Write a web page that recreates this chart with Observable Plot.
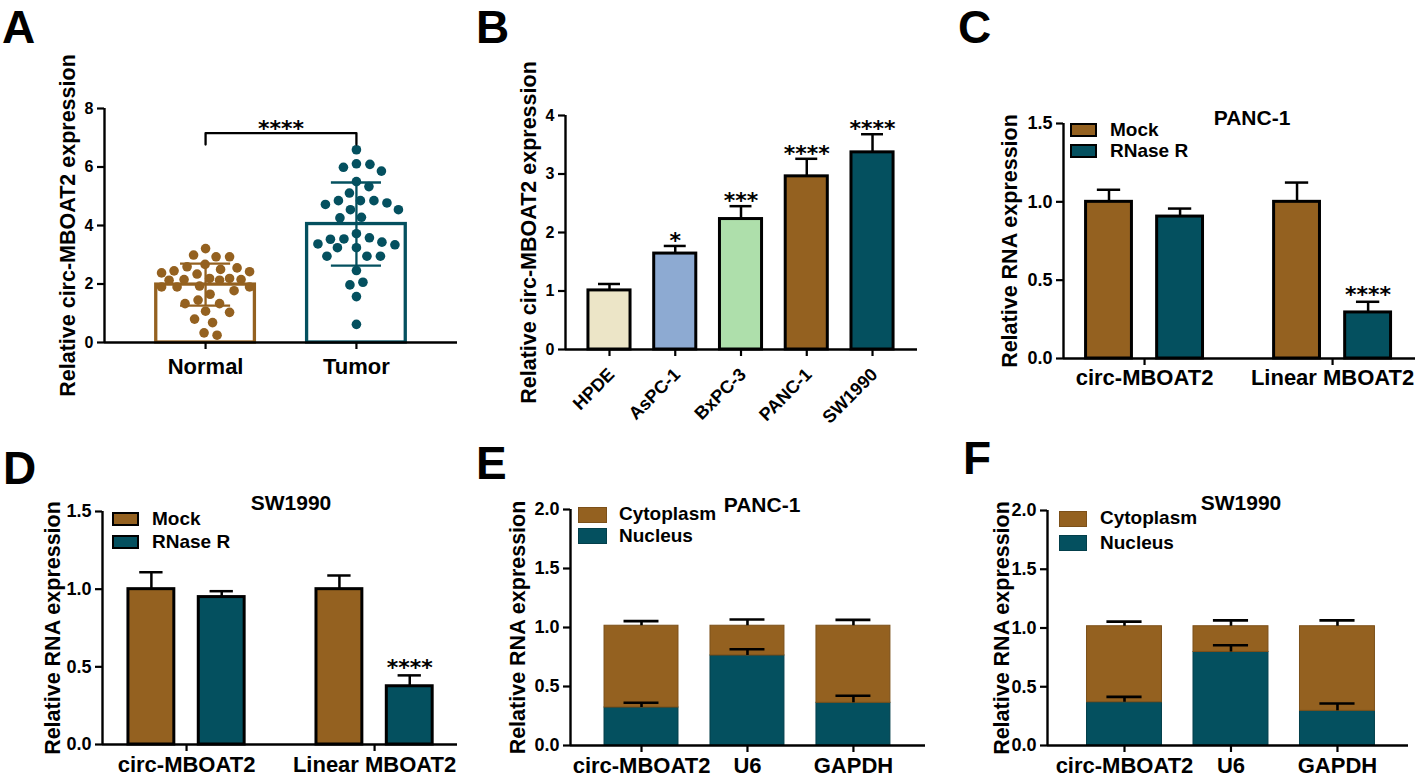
<!DOCTYPE html>
<html><head><meta charset="utf-8">
<script src="https://cdn.jsdelivr.net/npm/d3@7"></script>
<script src="https://cdn.jsdelivr.net/npm/@observablehq/plot@0.6"></script>
<style>
html,body{margin:0;padding:0;background:#fff;}
#fig{position:relative;width:1418px;height:778px;overflow:hidden;font-family:"Liberation Sans",Arial,sans-serif;font-weight:bold;color:#000;background:#fff;}
#fig div{position:absolute;line-height:normal;white-space:nowrap;}
#fig div.letter{font-size:46px;}
.sw{box-sizing:border-box;}
</style></head><body><div id="fig"></div>
<script>
// ---------------- DATA ----------------
// Panel A
const groupsA = ["Normal", "Tumor"];
const normalA = [3.21, 2.93, 2.93, 2.99, 2.59, 2.50, 2.42, 2.34, 2.38, 2.45, 2.55, 2.67, 2.19, 2.15, 2.13, 2.15, 2.19,
  1.90, 1.90, 1.93, 1.77, 2.13, 1.65, 1.45, 1.33, 1.33, 1.03, 1.07, 0.68, 0.80, 0.25, 0.33, 1.90];
const tumorA = [6.59, 6.09, 5.99, 6.11, 5.86, 5.50, 5.33, 5.11, 4.85, 4.77, 4.85, 4.72, 4.85, 4.54, 4.28, 4.26, 4.54,
  3.72, 3.54, 3.43, 3.53, 3.58, 3.37, 3.34, 3.24, 3.24, 2.95, 2.95, 2.95, 2.46, 2.06, 1.97, 1.57, 0.62];
const meansA = [1.98, 4.05];
const sdsA = [0.72, 1.42];
const bracketA = {low: 6.77, high: 7.16, stars: "****"};
const yTicksA = [0, 2, 4, 6, 8];
const yLabelA = "Relative circ-MBOAT2 expression";

// Panel B
const cellsB = ["HPDE", "AsPC-1", "BxPC-3", "PANC-1", "SW1990"];
const valuesB = [1.01, 1.64, 2.23, 2.96, 3.37];
const errB = [0.11, 0.13, 0.22, 0.30, 0.31];
const starsB = ["", "*", "***", "****", "****"];
const yTicksB = [0, 1, 2, 3, 4];
const yLabelB = "Relative circ-MBOAT2 expression";

// Panels C / D
const genesCD = ["circ-MBOAT2", "Linear MBOAT2"];
const treatCD = ["Mock", "RNase R"];
const mockC = [1.0, 1.0], mockErrC = [0.077, 0.123];
const rnaseC = [0.906, 0.294], rnaseErrC = [0.051, 0.068];
const starsC = ["", "****"];
const mockD = [1.0, 1.0], mockErrD = [0.109, 0.088];
const rnaseD = [0.949, 0.375], rnaseErrD = [0.038, 0.07];
const starsD = ["", "****"];
const yTicksCD = [0, 0.5, 1.0, 1.5];
const yLabelRNA = "Relative RNA expression";

// Panels E / F
const genesEF = ["circ-MBOAT2", "U6", "GAPDH"];
const partsEF = ["Cytoplasm", "Nucleus"];
const nucleusE = [0.322, 0.763, 0.362], nucleusErrE = [0.040, 0.053, 0.059];
const cytoE = [0.693, 0.252, 0.653], cytoErrE = [0.039, 0.053, 0.050];
const nucleusF = [0.368, 0.796, 0.295], nucleusErrF = [0.046, 0.057, 0.062];
const cytoF = [0.647, 0.219, 0.720], cytoErrF = [0.039, 0.050, 0.050];
const yTicksEF = [0, 0.5, 1.0, 1.5, 2.0];

// ---------------- STYLE ----------------
const FONT = "'Liberation Sans', Arial, sans-serif";
const BROWN = "#946120", TEAL = "#04505F";
const colorsA = [BROWN, TEAL];
const colorsB = ["#ECE5C7", "#8DAAD2", "#AEDFAB", BROWN, TEAL];
const colorsTreat = [BROWN, TEAL];
const colorsPart = {Cytoplasm: BROWN, Nucleus: TEAL};
const edgePart = {Cytoplasm: "#7c5019", Nucleus: "#033f4b"};
const fmt1 = d3.format(".1f");

const fig = document.getElementById("fig");

function panel(fr, marks, mB = 60) {
  const mL = 110, mR = 16, mT = 30;
  const svg = Plot.plot({
    width: fr.right - fr.left + mL + mR,
    height: fr.bottom - fr.top + mT + mB,
    marginLeft: mL, marginRight: mR, marginTop: mT, marginBottom: mB,
    x: {domain: fr.xDomain},
    y: {domain: fr.yDomain},
    style: {fontFamily: FONT, fontWeight: "bold", color: "#000", background: "none", overflow: "visible"},
    marks
  });
  svg.style.position = "absolute";
  svg.style.left = (fr.left - mL) + "px";
  svg.style.top = (fr.top - mT) + "px";
  fig.appendChild(svg);
}

function axes(fr, o) {
  return [
    Plot.axisY({ticks: o.yTicks, tickFormat: o.yFormat, tickSize: 7, tickPadding: 4, fontSize: o.yFont, fontWeight: "bold", strokeWidth: 2.2, label: null}),
    Plot.axisX({ticks: o.xTicks, tickFormat: o.rotate ? () => "" : o.xFormat, tickSize: 7, tickPadding: o.xPad, fontSize: o.xFont, fontWeight: "bold", strokeWidth: 2.2, label: null}),
    ...(o.rotate ? [Plot.text(o.xTicks, {x: d => d, text: o.xFormat, frameAnchor: "bottom", rotate: o.rotate, textAnchor: "end", lineAnchor: "middle", dx: 2, dy: 22, fontSize: o.xFont, fontWeight: "bold"})] : []),
    Plot.ruleY([fr.yDomain[0]], {stroke: "#000", strokeWidth: 2.4}),
    Plot.ruleX([fr.xDomain[0]], {stroke: "#000", strokeWidth: 2.4}),
    Plot.text([o.yLabel], {frameAnchor: "left", rotate: -90, textAnchor: "middle", dx: o.labelDx, fontSize: 21.5, fontWeight: "bold"})
  ];
}

function pxPerUnit(fr) {
  return {x: (fr.right - fr.left) / (fr.xDomain[1] - fr.xDomain[0]), y: (fr.bottom - fr.top) / (fr.yDomain[1] - fr.yDomain[0])};
}

// beeswarm layout: non-overlapping where possible, kept within maxHalf pixels of the centre
function swarmOffsets(values, k, r, gap, maxHalf) {
  const D = 2 * r + gap;
  const order = d3.range(values.length).sort((a, b) => d3.descending(values[a], values[b]));
  const placed = [], out = new Array(values.length);
  for (const i of order) {
    const y = values[i] * k.y;
    let found = null, bestX = 0, bestD = -1;
    for (let s = 0; s * 0.5 <= maxHalf && found === null; s++) {
      const c = s * 0.5;
      const cands = s === 0 ? [0] : (placed.length % 2 ? [-c, c] : [c, -c]);
      for (const cx of cands) {
        const md = placed.length ? d3.min(placed, p => Math.hypot(p.x - cx, p.y - y)) : Infinity;
        if (md >= D) { found = cx; break; }
        if (md > bestD) { bestD = md; bestX = cx; }
      }
    }
    const x = found !== null ? found : bestX;
    placed.push({x, y});
    out[i] = x / k.x;
  }
  return out;
}

// HTML text with line-height normal: cap centre sits ~0.562em below the box top
function addText(txt, left, capCenter, size, center = false) {
  const d = document.createElement("div");
  d.textContent = txt;
  d.style.left = left + "px";
  d.style.top = (capCenter - size * 0.562) + "px";
  d.style.fontSize = size + "px";
  if (center) d.style.transform = "translateX(-50%)";
  fig.appendChild(d);
}
function addLetter(txt, left, capTop) {
  const d = document.createElement("div");
  d.className = "letter";
  d.textContent = txt;
  d.style.left = left + "px";
  d.style.top = Math.max(0, capTop - 46 * 0.205) + "px";
  fig.appendChild(d);
}
function addSwatch(x1, y1, x2, y2, fill, border) {
  const d = document.createElement("div");
  d.className = "sw";
  d.style.cssText += `left:${x1}px;top:${y1}px;width:${x2 - x1}px;height:${y2 - y1}px;background:${fill};border:${border};`;
  fig.appendChild(d);
}

// ---------------- PANEL A ----------------
{
  const fr = {left: 104, right: 457, top: 108, bottom: 342, xDomain: [0.33, 2.67], yDomain: [0, 8]};
  const k = pxPerUnit(fr);
  const summary = groupsA.map((g, i) => ({group: g, pos: i + 1, mean: meansA[i], sd: sdsA[i], color: colorsA[i]}));
  const pts = [];
  [normalA, tumorA].forEach((vals, gi) => {
    const off = swarmOffsets(vals, k, 4.8, 3.6, 44);
    vals.forEach((v, i) => pts.push({group: groupsA[gi], x: gi + 1 + off[i], value: v, color: colorsA[gi]}));
  });
  const hw = 0.327, cap = 0.166;
  const br = [
    {x: 1, y: bracketA.low}, {x: 1, y: bracketA.high}, {x: 2, y: bracketA.high}, {x: 2, y: bracketA.low}
  ];
  panel(fr, [
    Plot.rectY(summary, {x1: d => d.pos - hw, x2: d => d.pos + hw, y: "mean", fill: "white", stroke: d => d.color, strokeWidth: 3.3}),
    Plot.dot(pts, {x: "x", y: "value", r: 4.8, fill: d => d.color, stroke: "none"}),
    Plot.ruleX(summary, {x: "pos", y1: d => d.mean - d.sd, y2: d => d.mean + d.sd, stroke: d => d.color, strokeWidth: 2.3}),
    Plot.ruleY(summary, {y: d => d.mean + d.sd, x1: d => d.pos - cap, x2: d => d.pos + cap, stroke: d => d.color, strokeWidth: 2.3}),
    Plot.ruleY(summary, {y: d => d.mean - d.sd, x1: d => d.pos - cap, x2: d => d.pos + cap, stroke: d => d.color, strokeWidth: 2.3}),
    Plot.line(br, {x: "x", y: "y", stroke: "#000", strokeWidth: 2.3}),
    Plot.text([bracketA], {x: () => 1.5, y: d => d.high, text: d => d.stars, dy: -4, fontSize: 22, fontFamily: "DejaVu Sans", fontWeight: "bold"}),
    ...axes(fr, {yTicks: yTicksA, yFormat: d3.format("d"), yFont: 16, xTicks: [1, 2], xFormat: i => groupsA[i - 1], xFont: 22, xPad: 9, yLabel: yLabelA, labelDx: -36})
  ]);
  addLetter("A", 2, 4);
}

// ---------------- PANEL B ----------------
{
  const fr = {left: 565, right: 917, top: 115, bottom: 349, xDomain: [0.331, 5.684], yDomain: [0, 4]};
  const data = cellsB.map((c, i) => ({cell: c, pos: i + 1, value: valuesB[i], err: errB[i], stars: starsB[i], color: colorsB[i]}));
  const hw = 0.32, cap = 0.167;
  panel(fr, [
    Plot.rectY(data, {x1: d => d.pos - hw, x2: d => d.pos + hw, y: "value", fill: d => d.color, stroke: "#000", strokeWidth: 3}),
    Plot.ruleX(data, {x: "pos", y1: "value", y2: d => d.value + d.err, stroke: "#000", strokeWidth: 2.5}),
    Plot.ruleY(data, {y: d => d.value + d.err, x1: d => d.pos - cap, x2: d => d.pos + cap, stroke: "#000", strokeWidth: 2.5}),
    Plot.text(data, {x: "pos", y: d => d.value + d.err, text: "stars", dy: -5, fontSize: 22, fontFamily: "DejaVu Sans", fontWeight: "bold"}),
    ...axes(fr, {yTicks: yTicksB, yFormat: d3.format("d"), yFont: 16, xTicks: [1, 2, 3, 4, 5], xFormat: i => cellsB[i - 1], xFont: 18, xPad: 3, rotate: -45, yLabel: yLabelB, labelDx: -36})
  ], 80);
  addLetter("B", 476, 7);
}

// ---------------- PANELS C / D ----------------
function grouped(fr, mock, mockErr, rnase, rnaseErr, stars, offset, o) {
  const data = [];
  genesCD.forEach((g, gi) => {
    data.push({gene: g, treat: treatCD[0], pos: gi + 1 - offset, value: mock[gi], err: mockErr[gi], stars: "", color: colorsTreat[0]});
    data.push({gene: g, treat: treatCD[1], pos: gi + 1 + offset, value: rnase[gi], err: rnaseErr[gi], stars: stars[gi], color: colorsTreat[1]});
  });
  const hw = 0.122, cap = 0.062;
  panel(fr, [
    Plot.rectY(data, {x1: d => d.pos - hw, x2: d => d.pos + hw, y: "value", fill: d => d.color, stroke: "#000", strokeWidth: 3}),
    Plot.ruleX(data, {x: "pos", y1: "value", y2: d => d.value + d.err, stroke: "#000", strokeWidth: 2.5}),
    Plot.ruleY(data, {y: d => d.value + d.err, x1: d => d.pos - cap, x2: d => d.pos + cap, stroke: "#000", strokeWidth: 2.5}),
    Plot.text(data, {x: "pos", y: d => d.value + d.err, text: "stars", dy: -7, fontSize: 22, fontFamily: "DejaVu Sans", fontWeight: "bold"}),
    ...axes(fr, {yTicks: yTicksCD, yFormat: fmt1, yFont: 18, xTicks: [1, 2], xFormat: i => genesCD[i - 1], xFont: 22, xPad: o.pad, yLabel: yLabelRNA, labelDx: o.labelDx})
  ]);
}
grouped({left: 1063, right: 1415, top: 123, bottom: 358, xDomain: [0.569, 2.441], yDomain: [0, 1.5]},
  mockC, mockErrC, rnaseC, rnaseErrC, starsC, 0.189, {pad: 4, labelDx: -53});
addLetter("C", 958, 8);
addText("PANC-1", 1252, 118, 21, true);
addSwatch(1070, 123, 1097, 137, colorsTreat[0], "2.5px solid #000");
addSwatch(1070, 144, 1097, 158, colorsTreat[1], "2.5px solid #000");
addText(treatCD[0], 1110, 130, 19);
addText(treatCD[1], 1110, 151, 19);

grouped({left: 102, right: 457, top: 511, bottom: 744, xDomain: [0.553, 2.441], yDomain: [0, 1.5]},
  mockD, mockErrD, rnaseD, rnaseErrD, starsD, 0.187, {pad: 5, labelDx: -49});
addLetter("D", 3, 450);
addText("SW1990", 291, 503, 21, true);
addSwatch(112, 512, 139, 526, colorsTreat[0], "2.5px solid #000");
addSwatch(112, 535, 139, 549, colorsTreat[1], "2.5px solid #000");
addText(treatCD[0], 152, 519, 19);
addText(treatCD[1], 152, 542, 19);

// ---------------- PANELS E / F ----------------
function stacked(fr, nucleus, nucleusErr, cyto, cytoErr, hw, labelDx) {
  const segs = [];
  genesEF.forEach((g, gi) => {
    segs.push({gene: g, part: "Nucleus", pos: gi + 1, y1: 0, y2: nucleus[gi], err: nucleusErr[gi]});
    segs.push({gene: g, part: "Cytoplasm", pos: gi + 1, y1: nucleus[gi], y2: nucleus[gi] + cyto[gi], err: cytoErr[gi]});
  });
  const cap = 0.165;
  panel(fr, [
    Plot.rect(segs, {x1: d => d.pos - hw, x2: d => d.pos + hw, y1: "y1", y2: "y2", fill: d => colorsPart[d.part], stroke: d => edgePart[d.part], strokeWidth: 1}),
    Plot.ruleX(segs, {x: "pos", y1: "y2", y2: d => d.y2 + d.err, stroke: "#000", strokeWidth: 2.6}),
    Plot.ruleY(segs, {y: d => d.y2 + d.err, x1: d => d.pos - cap, x2: d => d.pos + cap, stroke: "#000", strokeWidth: 2.6}),
    ...axes(fr, {yTicks: yTicksEF, yFormat: fmt1, yFont: 18, xTicks: [1, 2, 3], xFormat: i => genesEF[i - 1], xFont: 22, xPad: 5, yLabel: yLabelRNA, labelDx})
  ]);
}
stacked({left: 570, right: 925, top: 509, bottom: 745, xDomain: [0.33, 3.68], yDomain: [0, 2]},
  nucleusE, nucleusErrE, cytoE, cytoErrE, 0.349, -52);
addLetter("E", 476, 445);
addText("PANC-1", 762, 505, 21, true);
addSwatch(578, 507, 607, 523, colorsPart.Cytoplasm, "1px solid " + edgePart.Cytoplasm);
addSwatch(578, 528, 607, 544, colorsPart.Nucleus, "1px solid " + edgePart.Nucleus);
addText(partsEF[0], 619, 514, 19);
addText(partsEF[1], 619, 536, 19);

stacked({left: 1047, right: 1408, top: 510, bottom: 745, xDomain: [0.277, 3.667], yDomain: [0, 2]},
  nucleusF, nucleusErrF, cytoF, cytoErrF, 0.352, -45);
addLetter("F", 963, 440);
addText("SW1990", 1241, 503, 21, true);
addSwatch(1059, 511, 1087, 527, colorsPart.Cytoplasm, "1px solid " + edgePart.Cytoplasm);
addSwatch(1059, 535, 1087, 551, colorsPart.Nucleus, "1px solid " + edgePart.Nucleus);
addText(partsEF[0], 1100, 518, 19);
addText(partsEF[1], 1100, 543, 19);
</script></body></html>
